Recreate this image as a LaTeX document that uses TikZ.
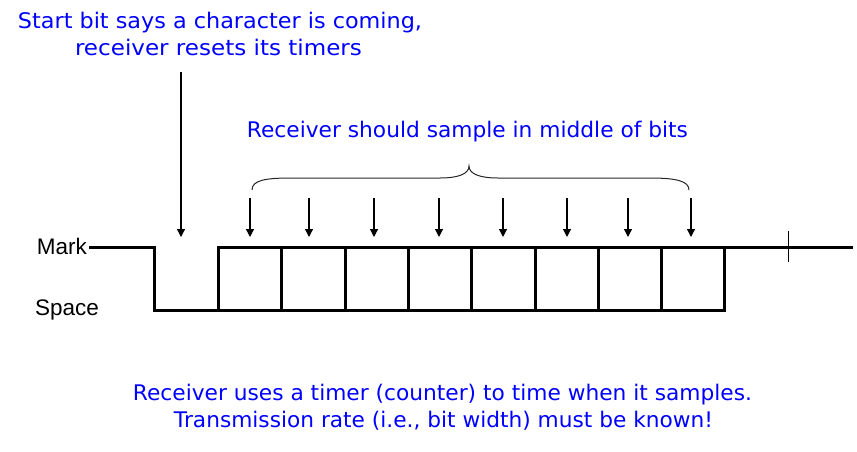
\documentclass[tikz,border=0pt]{standalone}
\usepackage{fontspec}
\setmainfont{DejaVu Sans}
\newfontfamily\labelfont{Liberation Sans}
\usetikzlibrary{arrows.meta}
\newcommand{\fitw}[2]{\resizebox{#1pt}{\height}{#2}}
\tikzset{
  bluetext/.style={text=blue, inner sep=0pt, anchor=base, font=\fontsize{21.5}{24}\selectfont},
  sigtext/.style={inner sep=0pt, anchor=base, font=\labelfont\fontsize{22.5}{26}\selectfont},
  signal/.style={line width=3pt, line join=miter, line cap=rect},
  sample/.style={line width=1.2pt, -{Triangle[length=8pt,width=8pt]}},
  bracepath/.style={line width=1pt, draw=black!85},
  tick/.style={line width=1pt}
}
\begin{document}
\begin{tikzpicture}[x=1pt,y=-1pt]
\useasboundingbox (0,0) rectangle (857,451);
% texts
\node[bluetext] (t1) at (220,28) {\fitw{404}{Start bit says a character is coming,}};
\node[bluetext] (t2) at (218.5,55) {\fitw{287}{receiver resets its timers}};
\node[bluetext] (t3) at (467.5,137) {\fitw{441}{Receiver should sample in middle of bits}};
\node[bluetext] (t4) at (442.5,400) {\fitw{619}{Receiver uses a timer (counter) to time when it samples.}};
\node[bluetext] (t5) at (443.5,427) {\fitw{539}{Transmission rate (i.e., bit width) must be known!}};
\node[sigtext, anchor=base east] (mark) at (87,254) {Mark};
\node[sigtext, anchor=base west] (space) at (35,315) {Space};
% signal coordinates
\coordinate (m0) at (90,247);
\coordinate (d0) at (154,247);
\coordinate (d1) at (154,310);
\coordinate (u0) at (218,310);
\coordinate (u1) at (218,247);
\coordinate (e0) at (724,247);
\coordinate (e1) at (724,310);
\coordinate (end) at (851,247);
\draw[signal] (m0) -- (d0) -- (d1) -- (e1) -- (e0);
\draw[signal] (u0) -- (u1) -- (end);
\foreach \x in {281,345,408,471,535,598,661} {
  \draw[signal] (\x,247) -- (\x,310);
}
% tick
\coordinate (k0) at (788,231);
\coordinate (k1) at (788,262);
\draw[tick] (k0) -- (k1);
% start bit arrow
\coordinate (sa0) at (181,72);
\coordinate (sa1) at (181,237);
\draw[sample] (sa0) -- (sa1);
% sample arrows
\foreach \x in {250,309,374,439,503,567,628,691} {
  \draw[sample] (\x,198) -- (\x,237);
}
% brace
\coordinate (b0) at (252,190);
\coordinate (btip) at (469,166);
\coordinate (b1) at (689,190);
\draw[bracepath] (b0) .. controls (252,180) and (266,178) .. (292,178) -- (440,178)
  .. controls (458,178) and (469,174) .. (btip)
  .. controls (469,174) and (480,178) .. (498,178) -- (650,178)
  .. controls (676,178) and (689,181) .. (b1);
\end{tikzpicture}
\end{document}
